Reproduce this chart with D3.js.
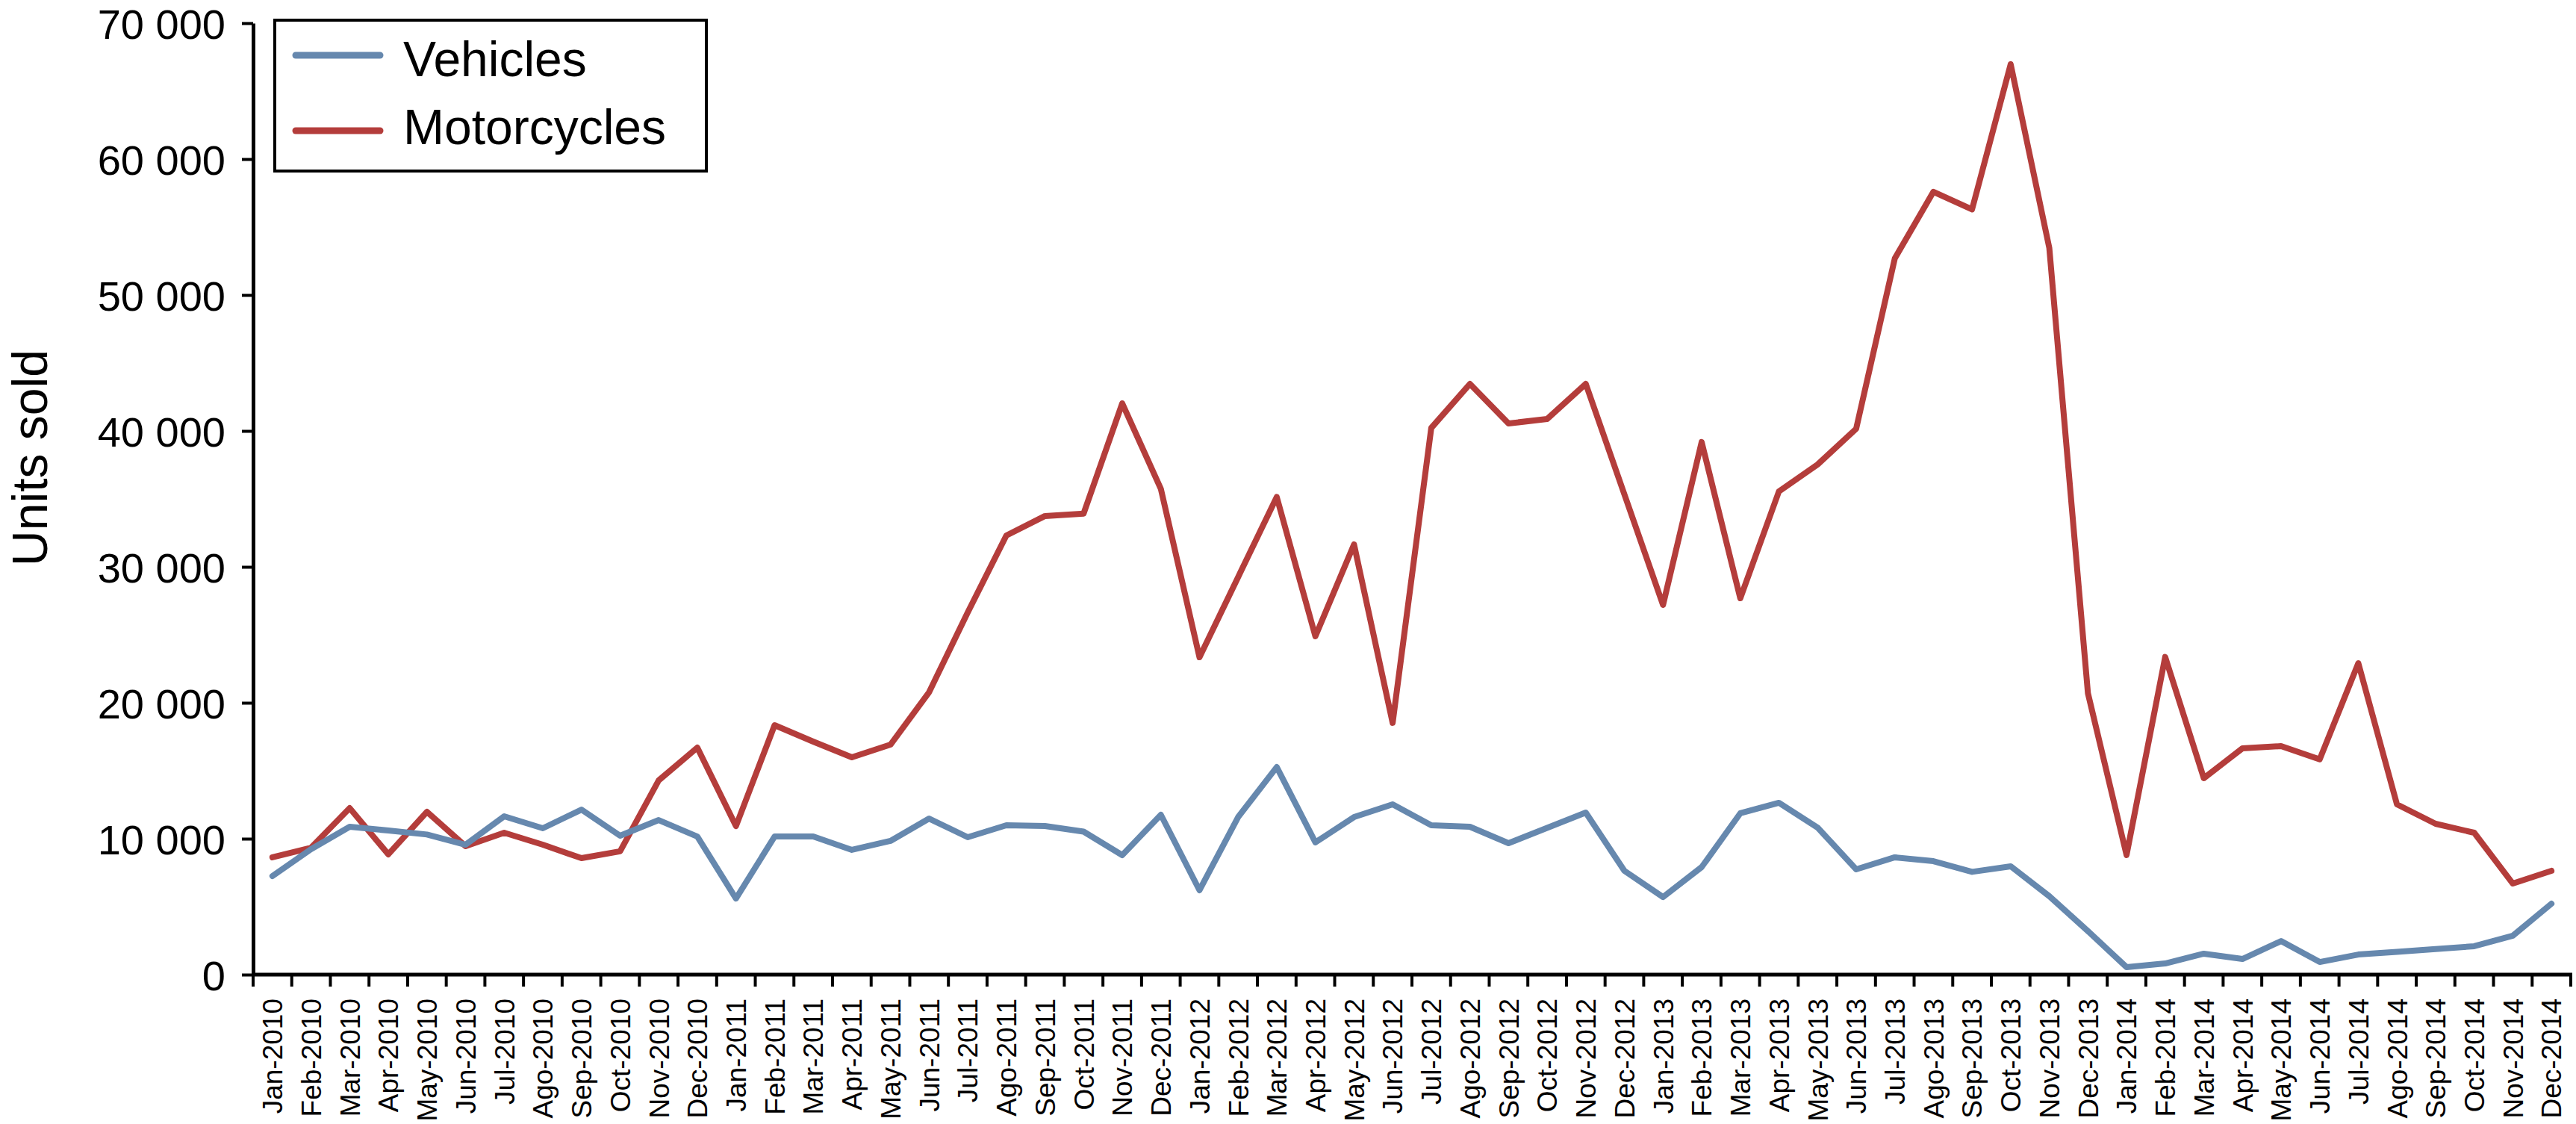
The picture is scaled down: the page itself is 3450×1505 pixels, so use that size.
<!DOCTYPE html>
<html>
<head>
<meta charset="utf-8">
<script src="https://cdn.jsdelivr.net/npm/d3@7"></script>
<style>
  html, body { margin: 0; padding: 0; background: #fff; }
  svg { display: block; font-family: "Liberation Sans", Arial, Helvetica, sans-serif; }
</style>
</head>
<body>
<svg id="chart" width="3450" height="1505"></svg>
<script>
const months = [
  "Jan-2010","Feb-2010","Mar-2010","Apr-2010","May-2010","Jun-2010","Jul-2010","Ago-2010","Sep-2010","Oct-2010","Nov-2010","Dec-2010",
  "Jan-2011","Feb-2011","Mar-2011","Apr-2011","May-2011","Jun-2011","Jul-2011","Ago-2011","Sep-2011","Oct-2011","Nov-2011","Dec-2011",
  "Jan-2012","Feb-2012","Mar-2012","Apr-2012","May-2012","Jun-2012","Jul-2012","Ago-2012","Sep-2012","Oct-2012","Nov-2012","Dec-2012",
  "Jan-2013","Feb-2013","Mar-2013","Apr-2013","May-2013","Jun-2013","Jul-2013","Ago-2013","Sep-2013","Oct-2013","Nov-2013","Dec-2013",
  "Jan-2014","Feb-2014","Mar-2014","Apr-2014","May-2014","Jun-2014","Jul-2014","Ago-2014","Sep-2014","Oct-2014","Nov-2014","Dec-2014"
];

const vehicles = [
  7250, 9230, 10880, 10600, 10310, 9560, 11650, 10770, 12140, 10220, 11370, 10160,
  5600, 10160, 10160, 9180, 9840, 11480, 10110, 10990, 10930, 10520, 8790, 11760,
  6210, 11590, 15270, 9730, 11590, 12530, 10990, 10880, 9670, 10800, 11920, 7640,
  5710, 7910, 11870, 12640, 10820, 7750, 8630, 8350, 7560, 7970, 5770, 3200,
  550, 820, 1540, 1150, 2470, 930, 1480, 1680, 1880, 2090, 2860, 5220
];

const motorcycles = [
  8630, 9340, 12250, 8850, 11980, 9450, 10440, 9560, 8570, 9070, 14290, 16700,
  10930, 18350, 17140, 15990, 16920, 20780, 26650, 32310, 33740, 33920, 42030, 35740,
  23350, 29250, 35140, 24890, 31650, 18520, 40220, 43460, 40550, 40880, 43460, 35330,
  27200, 39180, 27690, 35550, 37530, 40160, 52690, 57590, 56300, 66980, 53460, 20700,
  8800, 23370, 14450, 16650, 16810, 15840, 22910, 12530, 11100, 10440, 6700, 7640
];

const yTicks = [0, 10000, 20000, 30000, 40000, 50000, 60000, 70000];
const seriesNames = ["Vehicles", "Motorcycles"];
const seriesColors = ["#6688ae", "#b43d3b"];
const yTitle = "Units sold";

const svg = d3.select("#chart");
const plotLeft = 339, plotRight = 3443, plotTop = 31, plotBottom = 1305;

const x = d3.scaleBand().domain(months).range([plotLeft, plotRight]).paddingInner(0).paddingOuter(0);
const y = d3.scaleLinear().domain([0, 70000]).range([plotBottom, plotTop]);
const fmt = d => d3.format(",")(d).replace(/,/g, " ");

// X axis labels
const xAxis = svg.append("g")
  .attr("transform", `translate(0,${plotBottom})`)
  .call(d3.axisBottom(x).tickSize(0).tickSizeOuter(0).tickPadding(0));
xAxis.select(".domain").remove();
xAxis.selectAll(".tick text")
  .attr("font-size", 37)
  .attr("fill", "#000")
  .attr("font-family", "Liberation Sans, Arial, sans-serif")
  .attr("text-anchor", "end")
  .attr("transform", "rotate(-90)")
  .attr("x", -32)
  .attr("y", 0)
  .attr("dy", "0.36em");

// X boundary ticks
const bw = x.bandwidth();
const boundaries = months.map((m) => x(m)).concat([x(months[months.length - 1]) + bw]);
svg.append("g").selectAll("line").data(boundaries).join("line")
  .attr("x1", d => d).attr("x2", d => d)
  .attr("y1", plotBottom).attr("y2", plotBottom + 16)
  .attr("stroke", "#000").attr("stroke-width", 4);

// X axis line
svg.append("line")
  .attr("x1", x.range()[0] - 2).attr("x2", x.range()[1] + 2)
  .attr("y1", plotBottom).attr("y2", plotBottom)
  .attr("stroke", "#000").attr("stroke-width", 5);

// Y axis
const yAxis = svg.append("g")
  .attr("transform", `translate(${plotLeft},0)`)
  .call(d3.axisLeft(y).tickValues(yTicks).tickFormat(fmt).tickSize(15).tickSizeOuter(0).tickPadding(22));
yAxis.select(".domain").attr("stroke", "#000").attr("stroke-width", 5);
yAxis.selectAll(".tick line").attr("stroke", "#000").attr("stroke-width", 4);
yAxis.selectAll(".tick text")
  .attr("font-size", 56)
  .attr("fill", "#000")
  .attr("font-family", "Liberation Sans, Arial, sans-serif")
  .attr("dy", "0.36em");

// Y title
svg.append("text")
  .attr("transform", `translate(63,${(plotTop + plotBottom) / 2 - 55}) rotate(-90)`)
  .attr("text-anchor", "middle")
  .attr("font-size", 66)
  .attr("fill", "#000")
  .text(yTitle);

// Lines
const line = d3.line()
  .x((d, i) => x(months[i]) + bw / 2)
  .y(d => y(d));

svg.append("path").datum(motorcycles)
  .attr("d", line).attr("fill", "none")
  .attr("stroke", seriesColors[1]).attr("stroke-width", 8)
  .attr("stroke-linejoin", "round").attr("stroke-linecap", "round");

svg.append("path").datum(vehicles)
  .attr("d", line).attr("fill", "none")
  .attr("stroke", seriesColors[0]).attr("stroke-width", 8)
  .attr("stroke-linejoin", "round").attr("stroke-linecap", "round");

// Legend
const lg = svg.append("g");
lg.append("rect")
  .attr("x", 368).attr("y", 27).attr("width", 578).attr("height", 202)
  .attr("fill", "#fff").attr("stroke", "#000").attr("stroke-width", 4);
const legendRows = [74, 175];
const legendBase = [102, 193];
seriesNames.forEach((name, i) => {
  lg.append("line")
    .attr("x1", 396).attr("x2", 509)
    .attr("y1", legendRows[i]).attr("y2", legendRows[i])
    .attr("stroke", seriesColors[i]).attr("stroke-width", 9)
    .attr("stroke-linecap", "round");
  lg.append("text")
    .attr("x", 540).attr("y", legendBase[i])
    .attr("font-size", 66).attr("fill", "#000")
    .text(name);
});
</script>
</body>
</html>
